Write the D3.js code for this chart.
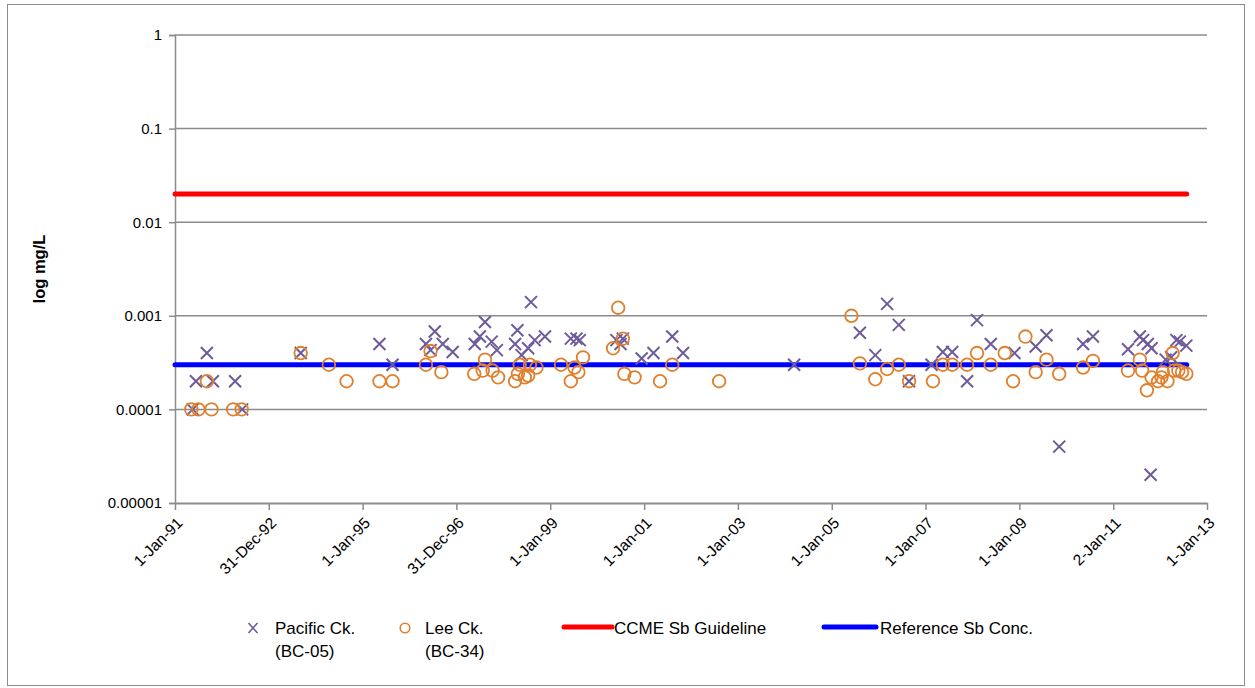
<!DOCTYPE html>
<html>
<head>
<meta charset="utf-8">
<script src="https://cdn.jsdelivr.net/npm/d3@7"></script>
<style>
  html, body { margin: 0; padding: 0; background: #ffffff; }
  svg { display: block; font-family: "Liberation Sans", Arial, sans-serif; }
</style>
</head>
<body>
<svg id="chart" width="1255" height="688"></svg>
<script>
// Antimony concentrations (mg/L) at two creek stations, 1991-2012
const pacificDates = [
  "1991-05-19","1991-06-13","1991-09-06","1991-10-23","1992-04-13","1992-06-07",
  "1993-09-06","1995-05-12","1995-08-22","1996-05-08","1996-06-13","1996-07-16",
  "1996-09-16","1996-12-02","1997-05-23","1997-07-02","1997-08-11","1997-10-02",
  "1997-11-11","1998-04-02","1998-04-20","1998-05-23","1998-07-13","1998-08-04",
  "1998-09-02","1998-11-21","1999-06-10","1999-07-24","1999-08-19","2000-05-30",
  "2000-07-01","2000-07-19","2000-12-13","2001-03-15","2001-08-08","2001-10-31",
  "2004-03-14","2005-08-08","2005-12-06","2006-03-08","2006-06-07","2006-08-26",
  "2007-02-17","2007-05-16","2007-07-28","2007-11-21","2008-02-06","2008-05-23",
  "2008-11-24","2009-05-08","2009-07-31","2009-11-07","2010-05-12","2010-07-28",
  "2011-04-27","2011-07-28","2011-08-22","2011-09-28","2011-10-20","2011-10-27",
  "2012-02-14","2012-03-28","2012-05-08","2012-06-03","2012-07-24"
];
const pacificValues = [
  0.0001, 0.0002, 0.0004, 0.0002, 0.0002, 0.0001,
  0.0004, 0.0005, 0.0003, 0.0005, 0.00043, 0.00068,
  0.0005, 0.00041, 0.0005, 0.0006, 0.00086, 0.00053,
  0.00043, 0.0005, 0.0007, 0.00038, 0.00045, 0.0014,
  0.00055, 0.0006, 0.00057, 0.00057, 0.00055, 0.00055,
  0.0005, 0.00057, 0.00035, 0.0004, 0.0006, 0.0004,
  0.0003, 0.00066, 0.00038, 0.00134, 0.0008, 0.0002,
  0.0003, 0.00041, 0.00041, 0.0002, 0.0009, 0.0005,
  0.0004, 0.00047, 0.00062, 0.00004, 0.0005, 0.0006,
  0.00044, 0.0006, 0.00055, 0.0005, 0.00002, 0.00045,
  0.00034, 0.00036, 0.00055, 0.00053, 0.00048
];

const leeDates = [
  "1991-05-08","1991-07-02","1991-09-06","1991-10-12","1992-03-29","1992-06-03",
  "1993-09-06","1994-04-13","1994-08-29","1995-05-12","1995-08-22","1996-05-08",
  "1996-06-13","1996-09-05","1997-05-19","1997-07-24","1997-08-11","1997-10-09",
  "1997-11-21","1998-04-02","1998-04-24","1998-05-08","1998-06-17","1998-07-13",
  "1998-07-27","1998-09-16","1999-03-26","1999-06-10","1999-07-09","1999-08-08",
  "1999-09-13","2000-05-04","2000-06-13","2000-07-19","2000-07-31","2000-10-19",
  "2001-05-05","2001-08-08","2002-08-08","2005-06-03","2005-08-08","2005-12-06",
  "2006-03-08","2006-06-07","2006-08-26","2007-02-28","2007-05-16","2007-07-28",
  "2007-11-21","2008-02-06","2008-05-23","2008-09-09","2008-11-13","2009-02-17",
  "2009-05-08","2009-07-31","2009-11-07","2010-05-12","2010-07-28","2011-04-27",
  "2011-07-28","2011-08-15","2011-09-21","2011-10-27","2011-12-17","2012-01-12",
  "2012-01-23","2012-02-28","2012-04-09","2012-04-20","2012-05-23","2012-06-21",
  "2012-07-24"
];
const leeValues = [
  0.0001, 0.0001, 0.0002, 0.0001, 0.0001, 0.0001,
  0.0004, 0.0003, 0.0002, 0.0002, 0.0002, 0.0003,
  0.00042, 0.00025, 0.00024, 0.00026, 0.00034, 0.00026,
  0.00022, 0.0002, 0.00024, 0.0003, 0.00022, 0.00023,
  0.0003, 0.00028, 0.0003, 0.0002, 0.00028, 0.00025,
  0.00036, 0.00045, 0.00122, 0.00057, 0.00024, 0.00022,
  0.0002, 0.0003, 0.0002, 0.001, 0.00031, 0.00021,
  0.00027, 0.0003, 0.0002, 0.0002, 0.0003, 0.0003,
  0.0003, 0.0004, 0.0003, 0.0004, 0.0002, 0.0006,
  0.00025, 0.00034, 0.00024, 0.00028, 0.00033, 0.00026,
  0.00034, 0.00026, 0.00016, 0.00022, 0.0002, 0.00022,
  0.00025, 0.0002, 0.0004, 0.00026, 0.00026, 0.00025,
  0.00024
];

// Guideline and reference concentrations (constant over the period)
const lineDates = ["1991-01-01", "2012-07-27"];
const guidelineValues = [0.02, 0.02];
const referenceValues = [0.0003, 0.0003];

// Axis ticks
const xTickDates = ["1991-01-01","1992-12-31","1995-01-01","1996-12-31","1999-01-01",
  "2001-01-01","2003-01-01","2005-01-01","2007-01-01","2009-01-01","2011-01-02","2013-01-01"];
const xTickLabels = ["1-Jan-91","31-Dec-92","1-Jan-95","31-Dec-96","1-Jan-99",
  "1-Jan-01","1-Jan-03","1-Jan-05","1-Jan-07","1-Jan-09","2-Jan-11","1-Jan-13"];
const yTickValues = [1, 0.1, 0.01, 0.001, 0.0001, 0.00001];
const yTickLabels = ["1", "0.1", "0.01", "0.001", "0.0001", "0.00001"];

const seriesNames = ["Pacific Ck.\n(BC-05)", "Lee Ck.\n(BC-34)", "CCME Sb Guideline", "Reference Sb Conc."];

const parse = d3.utcParse("%Y-%m-%d");
const colX = "#6e5b9a", colO = "#e0802e", colRed = "#ff0000", colBlue = "#0000ff", grid = "#8c8c8c";

const svg = d3.select("#chart");
const plotLeft = 175, plotRight = 1207, plotTop = 35, plotBottom = 503;

const x = d3.scaleUtc().domain([parse("1991-01-01"), parse("2013-01-01")]).range([plotLeft, plotRight]);
const y = d3.scaleLog().domain([0.00001, 1]).range([plotBottom, plotTop]);

// chart border
svg.append("rect").attr("x", 7.5).attr("y", 4.5).attr("width", 1237).attr("height", 681)
  .attr("fill", "none").attr("stroke", "#8c8c8c").attr("stroke-width", 1);

// horizontal gridlines at each decade
svg.append("g").selectAll("line").data(yTickValues.slice(0, -1)).join("line")
  .attr("x1", plotLeft).attr("x2", plotRight)
  .attr("y1", d => y(d)).attr("y2", d => y(d))
  .attr("stroke", grid).attr("stroke-width", 1.5);

// y axis
const yAxis = svg.append("g").attr("transform", `translate(${plotLeft},0)`)
  .call(d3.axisLeft(y).tickValues(yTickValues).tickFormat((d, i) => yTickLabels[i]).tickSize(6).tickPadding(7));
yAxis.select(".domain").attr("stroke", grid).attr("stroke-width", 1.5);
yAxis.selectAll(".tick line").attr("stroke", grid).attr("stroke-width", 1.5);
yAxis.selectAll(".tick text").attr("font-size", 15).attr("fill", "#000")
  .attr("font-family", "'Liberation Sans', Arial, sans-serif");

// x axis
const xTicks = xTickDates.map(parse);
const xAxis = svg.append("g").attr("transform", `translate(0,${plotBottom})`)
  .call(d3.axisBottom(x).tickValues(xTicks).tickFormat((d, i) => xTickLabels[i]).tickSize(7).tickSizeOuter(0));
xAxis.select(".domain").attr("stroke", grid).attr("stroke-width", 2);
xAxis.selectAll(".tick line").attr("stroke", grid).attr("stroke-width", 1.5);
xAxis.selectAll(".tick text")
  .attr("font-size", 15.5).attr("fill", "#000")
  .attr("font-family", "'Liberation Sans', Arial, sans-serif")
  .attr("text-anchor", "end")
  .attr("dy", 0).attr("y", 0)
  .attr("transform", "translate(8,21) rotate(-45)");

// y axis title
svg.append("text")
  .attr("transform", `translate(45,${(plotTop + plotBottom) / 2}) rotate(-90)`)
  .attr("text-anchor", "middle")
  .attr("font-size", 16.5).attr("font-weight", "bold").text("log mg/L");

// constant lines
const line = d3.line().x(d => x(d[0])).y(d => y(d[1]));
const lineData = vals => lineDates.map((d, i) => [parse(d), vals[i]]);
svg.append("path").datum(lineData(guidelineValues)).attr("d", line)
  .attr("fill", "none").attr("stroke", colRed).attr("stroke-width", 5).attr("stroke-linecap", "round");
svg.append("path").datum(lineData(referenceValues)).attr("d", line)
  .attr("fill", "none").attr("stroke", colBlue).attr("stroke-width", 5).attr("stroke-linecap", "round");

// markers
const xMark = "M-6,-6L6,6M6,-6L-6,6";
svg.append("g").selectAll("path").data(pacificDates.map((d, i) => [parse(d), pacificValues[i]])).join("path")
  .attr("transform", d => `translate(${x(d[0])},${y(d[1])})`)
  .attr("d", xMark).attr("stroke", colX).attr("stroke-width", 2).attr("fill", "none");

svg.append("g").selectAll("circle").data(leeDates.map((d, i) => [parse(d), leeValues[i]])).join("circle")
  .attr("cx", d => x(d[0])).attr("cy", d => y(d[1])).attr("r", 6.3)
  .attr("fill", "none").attr("stroke", colO).attr("stroke-width", 1.8);

// legend
const lg = svg.append("g").attr("font-size", 17).attr("fill", "#000");
const ly = 628;
lg.append("path").attr("d", "M-4.5,-5L4.5,5M4.5,-5L-4.5,5").attr("transform", `translate(253,${ly})`)
  .attr("stroke", colX).attr("stroke-width", 1.6).attr("fill", "none");
lg.append("circle").attr("cx", 405).attr("cy", ly).attr("r", 4.8)
  .attr("fill", "none").attr("stroke", colO).attr("stroke-width", 1.6);
lg.append("line").attr("x1", 564).attr("x2", 612).attr("y1", ly - 1).attr("y2", ly - 1)
  .attr("stroke", colRed).attr("stroke-width", 5).attr("stroke-linecap", "round");
lg.append("line").attr("x1", 824).attr("x2", 876).attr("y1", ly - 1).attr("y2", ly - 1)
  .attr("stroke", colBlue).attr("stroke-width", 5).attr("stroke-linecap", "round");

const legendX = [275, 425, 614, 880];
seriesNames.forEach((name, i) => {
  const t = lg.append("text").attr("x", legendX[i]).attr("y", ly + 6);
  name.split("\n").forEach((part, j) => {
    t.append("tspan").attr("x", legendX[i]).attr("dy", j === 0 ? 0 : 23).text(part);
  });
});
</script>
</body>
</html>
